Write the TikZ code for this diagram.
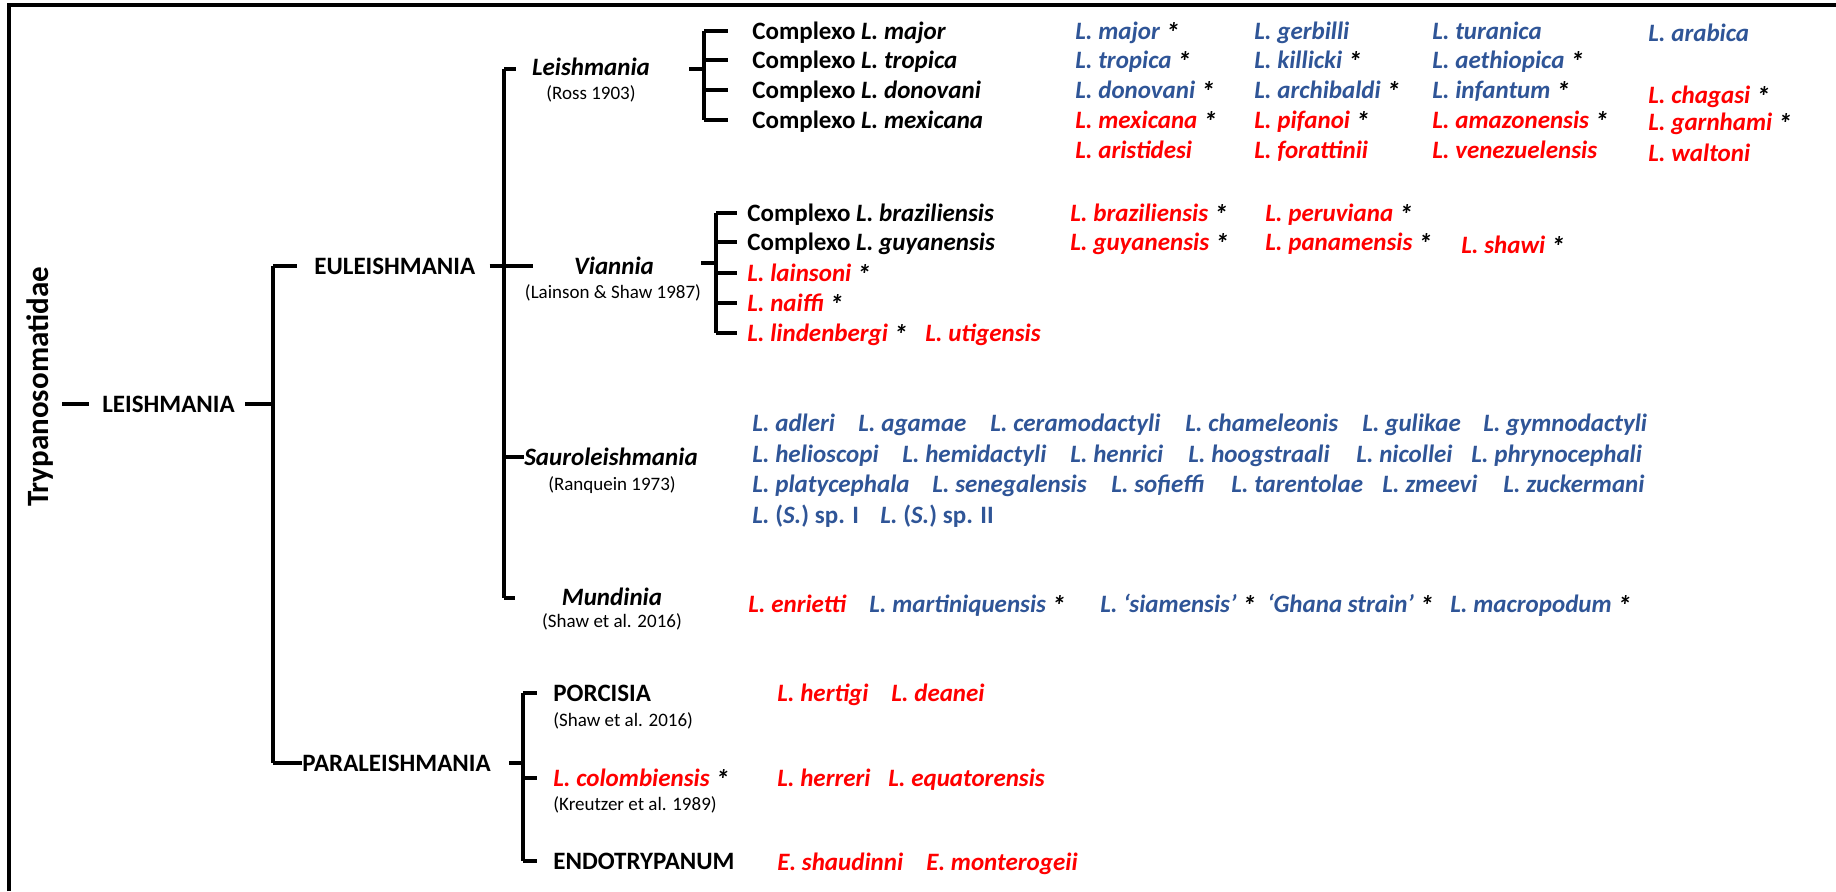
\documentclass[tikz,border=0pt]{standalone}
\usepackage{fontspec}
\setmainfont{Carlito}
\usepackage{tikz}
\definecolor{spblue}{RGB}{47, 85, 151}
\definecolor{spred}{RGB}{255, 0, 0}
\newcommand{\spst}{\textcolor{black}{\ \raisebox{-1.6pt}{\fontsize{14}{15}\selectfont *}}}

\begin{document}
\begin{tikzpicture}[x=0.5pt, y=-0.5pt,
  br/.style={line width=1.7pt},
  lbl/.style={anchor=west, inner sep=0pt, text height=8pt, text depth=0pt,
    font=\bfseries\fontsize{12.5}{15}\selectfont},
  sg/.style={lbl, anchor=center, font=\bfseries\itshape\fontsize{12.5}{15}\selectfont},
  cite/.style={inner sep=0pt, text height=6pt, text depth=0pt, font=\fontsize{9.5}{11}\selectfont},
  bsp/.style={lbl, text=spblue, font=\bfseries\itshape\fontsize{12.5}{15}\selectfont},
  rsp/.style={bsp, text=spred}]
  \useasboundingbox (0,0) rectangle (1836,891);
  \draw[line width=1.6pt] (9,891) -- (9,5) -- (1836,5);

  \node[rotate=90, inner sep=0pt, font=\bfseries\fontsize{15.5}{18}\selectfont] (tryp) at (40,387) {Trypanosomatidae};
  \node[lbl] (lei) at (102,404) {LEISHMANIA};
  \node[lbl] (eul) at (314,266) {EULEISHMANIA};
  \node[lbl] (par) at (302,763) {PARALEISHMANIA};

  \coordinate (t0) at (62,404);
  \coordinate (k0) at (273,404);
  \draw[br] (t0) -- ([xshift=-6.5pt]lei.west);
  \draw[br] ([xshift=5pt]lei.east) -- (k0);
  \draw[br] (k0 |- eul.west) -- (k0 |- par.west);
  \draw[br] (k0 |- eul.west) -- ([xshift=-8.5pt]eul.west);
  \draw[br] (k0 |- par.west) -- (par.west);

  \node[sg] (lsg) at (591,67) {Leishmania};
  \node[cite] (lsgc) at (591,93) {(Ross 1903)};
  \node[sg] (vsg) at (614,266) {Viannia};
  \node[cite] (vsgc) at (613,292) {(Lainson \& Shaw 1987)};
  \node[sg] (ssg) at (611,457) {Sauroleishmania};
  \node[cite] (ssgc) at (612,484) {(Ranquein 1973)};
  \node[sg] (msg) at (612,597) {Mundinia};
  \node[cite] (msgc) at (612,621) {(Shaw et al. 2016)};

  \coordinate (k1t) at (504,69);
  \coordinate (k1b) at (504,598);
  \draw[br] (k1t) -- (k1b);
  \draw[br] (k1t) -- ([xshift=-8pt]lsg.west |- k1t);
  \draw[br] ([xshift=7pt]eul.east) -- ([xshift=7pt]eul.east -| k1t) -- ++(15,0);
  \draw[br] (k1t |- ssg.west) -- (ssg.west);
  \draw[br] (k1b) -- ++(11,0);

  \coordinate (k2) at (704,69);
  \foreach \y/\t [count=\i] in {31/major, 60/tropica, 90/donovani, 120/mexicana}
    \node[lbl] (c\i) at (752,\y) {Complexo \textit{L. \t}};
  \draw[br] (k2 |- c1.west) -- (k2 |- c4.west);
  \foreach \i in {1,...,4}
    \draw[br] (k2 |- c\i.west) -- ([xshift=-12pt]c\i.west);
  \draw[br] (k2) -- ++(-15,0);

  \foreach \x/\y/\cl/\t [count=\i] in {
    1075/31/bsp/{L. major\spst}, 1254/31/bsp/{L. gerbilli}, 1432/31/bsp/{L. turanica}, 1648/33/bsp/{L. arabica},
    1075/60/bsp/{L. tropica\spst}, 1254/60/bsp/{L. killicki\spst}, 1432/60/bsp/{L. aethiopica\spst},
    1075/90/bsp/{L. donovani\spst}, 1254/90/bsp/{L. archibaldi\spst}, 1432/90/bsp/{L. infantum\spst}, 1648/95/rsp/{L. chagasi\spst},
    1075/120/rsp/{L. mexicana\spst}, 1254/120/rsp/{L. pifanoi\spst}, 1432/120/rsp/{L. amazonensis\spst}, 1648/122/rsp/{L. garnhami\spst},
    1075/150/rsp/{L. aristidesi}, 1254/150/rsp/{L. forattinii}, 1432/150/rsp/{L. venezuelensis}, 1648/153/rsp/{L. waltoni}}
    \node[\cl] (ls\i) at (\x,\y) {\t};

  \coordinate (k3) at (716,263);
  \node[lbl] (v1) at (747,213) {Complexo \textit{L. braziliensis}};
  \node[lbl] (v2) at (747,242) {Complexo \textit{L. guyanensis}};
  \node[rsp] (v3) at (747,273) {L. lainsoni\spst};
  \node[rsp] (v4) at (747,303) {L. naiffi\spst};
  \node[rsp] (v5) at (747,333) {L. lindenbergi\spst};
  \draw[br] (k3 |- v1.west) -- (k3 |- v5.west);
  \foreach \i in {1,...,5}
    \draw[br] (k3 |- v\i.west) -- ([xshift=-5pt]v\i.west);
  \draw[br] (k3) -- ++(-15,0);

  \foreach \x/\y/\t [count=\i] in {
    925/333/{L. utigensis}, 1070/213/{L. braziliensis\spst}, 1265/213/{L. peruviana\spst},
    1070/242/{L. guyanensis\spst}, 1265/242/{L. panamensis\spst}, 1461/245/{L. shawi\spst}}
    \node[rsp] (vs\i) at (\x,\y) {\t};

  \foreach \x/\y/\t [count=\i] in {
    752/423/{L. adleri}, 858/423/{L. agamae}, 990/423/{L. ceramodactyli}, 1185/423/{L. chameleonis}, 1362/423/{L. gulikae}, 1483/423/{L. gymnodactyli},
    752/454/{L. helioscopi}, 902/454/{L. hemidactyli}, 1070/454/{L. henrici}, 1188/454/{L. hoogstraali}, 1356/454/{L. nicollei}, 1471/454/{L. phrynocephali},
    752/484/{L. platycephala}, 932/484/{L. senegalensis}, 1111/484/{L. sofieffi}, 1231/484/{L. tarentolae}, 1382/484/{L. zmeevi}, 1503/484/{L. zuckermani},
    752/515/{L. \textup{(}S.\textup{) sp. I}}, 880/515/{L. \textup{(}S.\textup{) sp. II}}}
    \node[bsp] (ss\i) at (\x,\y) {\t};

  \foreach \x/\cl/\t [count=\i] in {
    748/rsp/{L. enrietti}, 869/bsp/{L. martiniquensis\spst}, 1100/bsp/{L. ‘siamensis’\spst},
    1267/bsp/{‘Ghana strain’\spst}, 1450/bsp/{L. macropodum\spst}}
    \node[\cl] (ms\i) at (\x,604) {\t};

  \coordinate (k4) at (523,763);
  \node[lbl] (p1) at (553,693) {PORCISIA};
  \node[cite, anchor=west] (p1c) at (553,720) {(Shaw et al. 2016)};
  \node[rsp] (p2) at (553,778) {L. colombiensis\spst};
  \node[cite, anchor=west] (p2c) at (553,804) {(Kreutzer et al. 1989)};
  \node[lbl] (p3) at (553,861) {ENDOTRYPANUM};
  \draw[br] (k4 |- p1.west) -- (k4 |- p3.west);
  \foreach \i in {1,2,3}
    \draw[br] (k4 |- p\i.west) -- ([xshift=-8pt]p\i.west);
  \draw[br] ([xshift=9pt]par.east) -- (k4);

  \foreach \x/\y/\t [count=\i] in {
    777/693/{L. hertigi}, 891/693/{L. deanei}, 777/778/{L. herreri}, 888/778/{L. equatorensis},
    777/862/{E. shaudinni}, 926/862/{E. monterogeii}}
    \node[rsp] (ps\i) at (\x,\y) {\t};
\end{tikzpicture}
\end{document}
